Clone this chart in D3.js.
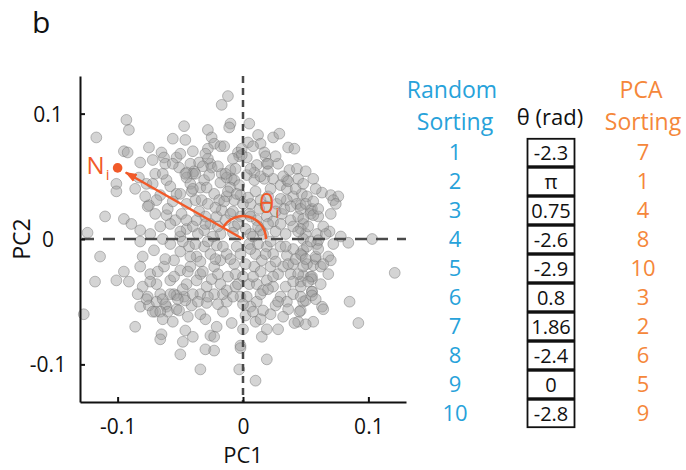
<!DOCTYPE html>
<html lang="en">
<head>
<meta charset="utf-8">
<title>PCA sorting of neurons</title>
<script src="https://cdn.jsdelivr.net/npm/d3@7"></script>
<style>
  body { margin: 0; background: #fff; }
  text { font-family: "Open Sans", sans-serif; }
</style>
</head>
<body>
<script>

// neuron positions in PC space [PC1, PC2]
var neurons = [
  [-0.012,0.114],[-0.017,0.107],[-0.093,0.095],[-0.091,0.087],[-0.117,0.081],[-0.047,0.090],[-0.056,0.080],[-0.046,0.079],
  [-0.028,0.087],[-0.025,0.081],[-0.010,0.092],[-0.011,0.089],[0.005,0.092],[0.012,0.083],[0.024,0.081],[0.029,0.084],
  [-0.023,0.076],[-0.018,0.074],[-0.015,0.074],[0.014,0.076],[0.036,0.073],[0.041,0.072],[-0.075,0.073],[-0.095,0.070],
  [-0.092,0.069],[-0.082,0.061],[-0.072,0.063],[-0.065,0.069],[-0.063,0.065],[-0.062,0.060],[-0.053,0.065],[-0.051,0.057],
  [-0.042,0.060],[-0.039,0.054],[-0.035,0.061],[-0.026,0.060],[-0.025,0.057],[-0.004,0.069],[-0.003,0.066],[0.003,0.065],
  [0.017,0.069],[0.018,0.066],[0.019,0.060],[0.011,0.059],[0.009,0.053],[-0.010,0.055],[0.037,0.055],[0.043,0.056],
  [0.050,0.054],[0.056,0.048],[0.035,0.047],[-0.083,0.049],[-0.070,0.052],[0.004,0.077],[-0.028,0.072],[-0.001,0.072],
  [-0.001,0.067],[-0.028,0.064],[0.020,0.060],[-0.017,0.052],[-0.009,0.048],[-0.040,0.052],[-0.045,0.053],
  [-0.101,0.044],[-0.101,0.038],[-0.077,0.044],[-0.061,0.047],[-0.058,0.042],[-0.066,0.035],[-0.069,0.031],[-0.053,0.036],
  [-0.045,0.049],[-0.042,0.044],[-0.041,0.038],[-0.034,0.041],[-0.031,0.047],[-0.027,0.051],[-0.029,0.041],[-0.023,0.036],
  [-0.018,0.045],[-0.013,0.049],[-0.007,0.047],[-0.010,0.041],[-0.003,0.043],[0.003,0.051],[0.009,0.047],[0.017,0.048],
  [0.024,0.048],[0.030,0.043],[0.035,0.040],[0.040,0.034],[0.047,0.036],[0.051,0.034],[0.063,0.037],[0.070,0.035],
  [0.076,0.034],[0.072,0.031],[0.055,0.024],[-0.075,0.027],[-0.045,0.028],[-0.038,0.031],[-0.033,0.031],[-0.019,0.031],
  [-0.013,0.034],[-0.007,0.031],[-0.002,0.035],[0.006,0.028],[0.014,0.031],[0.020,0.034],[0.027,0.028],[0.035,0.031],
  [0.043,0.028],[-0.110,0.018],[-0.095,0.016],[-0.089,0.012],
  [-0.124,0.005],[-0.082,0.007],[-0.074,0.004],[-0.066,0.010],[-0.061,0.019],[-0.054,0.015],[-0.049,0.020],[-0.045,0.008],
  [-0.037,0.015],[-0.031,0.007],[-0.026,0.012],[-0.021,0.018],[-0.017,0.023],[-0.010,0.020],[-0.007,0.010],[-0.002,0.018],
  [0.005,0.020],[0.011,0.015],[0.019,0.018],[0.024,0.014],[0.031,0.020],[0.038,0.015],[0.044,0.018],[0.048,0.012],
  [0.054,0.020],[0.060,0.018],[0.050,0.004],[0.059,0.004],[0.069,0.006],[0.078,0.002],[0.084,-0.003],[0.103,0.000],
  [0.014,0.007],[0.006,0.004],[-0.018,0.004],[-0.050,0.002],[-0.076,0.026],
  [0.046,0.027],[0.054,0.023],[0.056,0.019],[0.048,0.016],[0.048,0.000],[0.046,0.008],[0.059,-0.004],[0.060,-0.001],
  [0.048,-0.009],[0.047,-0.013],[0.058,-0.016],[0.056,-0.021],[0.062,-0.022],[0.051,-0.020],[0.048,-0.029],[0.054,-0.030],
  [0.055,-0.032],[0.046,-0.034],[0.055,-0.042],
  [-0.114,-0.014],[-0.082,-0.002],[-0.080,-0.014],[-0.071,-0.009],[-0.082,-0.022],[-0.074,-0.028],[-0.095,-0.026],[-0.101,-0.033],
  [-0.118,-0.034],[-0.091,-0.034],[-0.063,-0.022],[-0.055,-0.017],[-0.058,-0.004],[-0.050,-0.010],[-0.043,-0.006],[-0.037,-0.014],
  [-0.031,-0.006],[-0.026,-0.012],[-0.021,-0.005],[-0.018,-0.017],[-0.013,-0.012],[-0.007,-0.020],[-0.005,-0.006],[0.005,-0.004],
  [0.010,-0.012],[0.015,-0.017],[0.019,-0.006],[0.024,-0.012],[0.030,-0.006],[0.035,-0.013],[0.040,-0.008],[0.046,-0.012],
  [0.051,-0.006],[0.058,-0.014],[0.068,-0.014],[0.070,-0.017],[0.121,-0.027],[-0.050,-0.025],[-0.042,-0.022],[-0.034,-0.028],
  [-0.023,-0.022],[0.009,-0.022],[0.022,-0.022],[0.032,-0.022],[0.040,-0.020],[0.048,-0.022],[0.055,-0.030],[0.038,-0.028],
  [-0.080,-0.038],[-0.069,-0.036],[-0.058,-0.033],[-0.076,-0.046],[-0.066,-0.044],[-0.082,-0.054],[-0.075,-0.053],[-0.069,-0.050],
  [-0.061,-0.054],[-0.055,-0.044],[-0.047,-0.046],[-0.045,-0.036],[-0.037,-0.033],[-0.029,-0.038],[-0.034,-0.044],[-0.023,-0.044],
  [-0.018,-0.036],[-0.013,-0.041],[-0.006,-0.038],[-0.002,-0.046],[0.005,-0.036],[0.011,-0.036],[0.019,-0.033],[0.016,-0.041],
  [0.024,-0.038],[0.030,-0.046],[0.035,-0.050],[0.040,-0.044],[0.046,-0.038],[0.055,-0.042],[0.048,-0.050],[0.063,-0.054],
  [0.085,-0.050],[0.011,-0.050],[0.006,-0.054],[-0.029,-0.051],[-0.041,-0.053],[-0.053,-0.056],[-0.013,-0.050],[0.026,-0.053],
  [-0.077,-0.048],[-0.064,-0.048],[-0.062,-0.052],[-0.053,-0.045],[-0.070,-0.058],[-0.060,-0.058],[-0.046,-0.049],
  [0.050,-0.049],[0.046,-0.057],[0.044,-0.066],[0.055,-0.045],
  [-0.127,-0.060],[-0.072,-0.058],[-0.066,-0.058],[-0.051,-0.057],[-0.016,-0.058],[0.002,-0.061],[0.016,-0.057],[0.036,-0.056],
  [0.056,-0.066],[0.041,-0.067],[0.092,-0.067],[-0.086,-0.070],[-0.009,-0.067],[0.010,-0.066],[-0.021,-0.070],[-0.046,-0.073],
  [-0.065,-0.076],[-0.066,-0.080],[-0.040,-0.078],[-0.026,-0.077],[-0.023,-0.078],[0.000,-0.072],[0.015,-0.078],[0.019,-0.072],
  [-0.048,-0.082],[-0.002,-0.085],[-0.002,-0.087],[-0.030,-0.088],[-0.023,-0.089],[-0.050,-0.092],[0.019,-0.096],[-0.034,-0.104],
  [-0.003,-0.104],[0.010,-0.113],[-0.034,-0.060],[0.014,-0.064],
  // dense core
  [-0.040,0.040],[-0.035,0.022],[-0.030,0.018],[-0.028,0.028],[-0.022,0.025],[-0.015,0.030],[-0.012,0.038],[-0.005,0.036],
  [0.000,0.028],[0.004,0.033],[0.010,0.038],[0.013,0.024],[0.018,0.026],[0.022,0.040],[0.026,0.022],[0.030,0.032],
  [0.033,0.024],[0.038,0.026],[0.042,0.040],[0.046,0.024],[0.050,0.028],[0.056,0.030],[0.060,0.024],[-0.045,0.015],
  [-0.040,0.010],[-0.036,0.004],[-0.030,0.012],[-0.024,0.002],[-0.020,0.010],[-0.014,0.015],[-0.008,0.005],[-0.004,0.012],
  [0.002,0.008],[0.008,0.002],[0.012,0.010],[0.016,0.004],[0.020,0.012],[0.026,0.006],[0.030,0.012],[0.034,0.004],
  [0.040,0.010],[0.044,0.006],[0.052,0.010],[0.064,0.010],[-0.048,-0.002],[-0.042,-0.014],[-0.038,-0.004],[-0.034,-0.018],
  [-0.028,-0.002],[-0.022,-0.016],[-0.016,-0.006],[-0.010,-0.016],[-0.006,-0.028],[-0.002,-0.012],[0.002,-0.020],[0.006,-0.008],
  [0.012,-0.004],[0.014,-0.026],[0.018,-0.012],[0.022,-0.002],[0.026,-0.018],[0.028,-0.028],[0.034,-0.006],[0.036,-0.020],
  [0.042,-0.016],[0.044,-0.028],[0.050,-0.016],[0.054,-0.002],[0.060,-0.008],[0.064,-0.020],[-0.055,-0.030],[-0.048,-0.040],
  [-0.044,-0.026],[-0.040,-0.044],[-0.032,-0.026],[-0.028,-0.046],[-0.025,-0.032],[-0.020,-0.028],[-0.016,-0.044],[-0.012,-0.030],
  [-0.008,-0.046],[-0.004,-0.036],[0.000,-0.030],[0.003,-0.046],[0.008,-0.030],[0.014,-0.044],[0.020,-0.040],[0.024,-0.030],
  [0.028,-0.050],[0.034,-0.038],[0.040,-0.034],[0.046,-0.046],[0.052,-0.034],[-0.060,0.024],[-0.056,0.030],[-0.050,0.036],
  [-0.046,0.052],[-0.038,0.052],[-0.032,0.058],[-0.020,0.058],[-0.014,0.052],[-0.006,0.056],[0.006,0.056],[0.014,0.050],
  [0.020,0.054],[0.028,0.060],[0.032,0.050],[0.044,0.048],[0.048,0.044],[-0.064,0.000],[-0.062,-0.016],[-0.068,-0.026],
  [-0.058,-0.044],[-0.052,-0.048],[-0.036,-0.050],[-0.020,-0.052],[0.008,-0.058],[0.022,-0.060],[0.032,-0.062],[0.045,-0.058],
  [0.058,-0.048],[0.062,-0.036],[0.068,-0.028],[0.072,-0.004],[0.066,0.004],[0.070,0.020],[-0.070,0.020],[-0.078,0.034],
  [-0.072,0.044],[-0.086,0.040],[-0.064,0.052],[-0.056,0.060],[-0.050,0.068],[-0.040,0.070],[-0.030,0.068],[-0.008,0.064],
  [0.026,0.066],[0.008,0.074],[-0.074,-0.034],[-0.084,-0.044],[-0.064,-0.064],[-0.056,-0.066],[-0.044,-0.062],[-0.030,-0.064],
  [0.000,-0.052],[0.028,-0.072],[0.050,-0.068],[-0.050,0.006],[-0.058,0.012],[-0.008,0.022],[0.006,0.018],[0.036,0.046],
  [0.058,0.040],[0.074,0.028],[0.064,-0.056]
];

var exampleNeuron = [-0.100, 0.0567];   // N_i
var axisTicks = [-0.1, 0, 0.1];

var randomOrder = [1, 2, 3, 4, 5, 6, 7, 8, 9, 10];
var thetaValues = ["-2.3", "\u03c0", "0.75", "-2.6", "-2.9", "0.8", "1.86", "-2.4", "0", "-2.8"];
var pcaOrder = [7, 1, 4, 8, 10, 3, 2, 6, 5, 9];

var w = 686, h = 470;
var red = "#f15a29", blue = "#27a2da", orange = "#f5873a";

var svg = d3.select("body").append("svg")
  .attr("width", w)
  .attr("height", h);

var xScale = d3.scaleLinear().domain([-0.13, 0.13]).range([80, 406]);
var yScale = d3.scaleLinear().domain([-0.13, 0.13]).range([402, 76]);

var fmt = function(d) { return d === 0 ? "0" : String(d); };

// points
svg.append("g").selectAll("circle")
  .data(neurons)
  .enter()
  .append("circle")
  .attr("cx", function(d) { return xScale(d[0]); })
  .attr("cy", function(d) { return yScale(d[1]); })
  .attr("r", 5.4)
  .attr("fill", "rgb(160,160,160)")
  .attr("fill-opacity", 0.45)
  .attr("stroke", "rgb(110,110,110)")
  .attr("stroke-opacity", 0.5)
  .attr("stroke-width", 0.9);

// zero lines
svg.append("line")
  .attr("x1", xScale(0)).attr("x2", xScale(0))
  .attr("y1", yScale(0.13)).attr("y2", yScale(-0.13))
  .attr("stroke", "#4a4a4a").attr("stroke-width", 2.5)
  .attr("stroke-dasharray", "7,5");

svg.append("line")
  .attr("x1", xScale(-0.13)).attr("x2", xScale(0.13))
  .attr("y1", yScale(0)).attr("y2", yScale(0))
  .attr("stroke", "#4a4a4a").attr("stroke-width", 2.5)
  .attr("stroke-dasharray", "12,9")
  .attr("stroke-dashoffset", -2);

// axes
var xAxis = d3.axisBottom(xScale).tickValues(axisTicks).tickSize(-5).tickSizeOuter(0).tickFormat(fmt);
var yAxis = d3.axisLeft(yScale).tickValues(axisTicks).tickSize(-5).tickSizeOuter(0).tickFormat(fmt);

var gx = svg.append("g")
  .attr("transform", "translate(0," + yScale(-0.13) + ")")
  .call(xAxis);
var gy = svg.append("g")
  .attr("transform", "translate(" + xScale(-0.13) + ",0)")
  .call(yAxis);

[gx, gy].forEach(function(g) {
  g.select(".domain").attr("stroke", "#111").attr("stroke-width", 2);
  g.selectAll(".tick line").attr("stroke", "#111").attr("stroke-width", 2);
  g.selectAll(".tick text")
    .attr("fill", "#111")
    .attr("font-size", 21)
    .attr("font-family", "Open Sans, sans-serif");
});
gx.selectAll(".tick text").attr("y", 32).attr("dy", 0);
gy.selectAll(".tick text").attr("x", -32).attr("dy", "0.36em").attr("text-anchor", "middle");

// axis titles
svg.append("text")
  .attr("x", xScale(0)).attr("y", 463)
  .attr("text-anchor", "middle").attr("font-size", 22).attr("fill", "#111")
  .text("PC1");
svg.append("text")
  .attr("transform", "translate(30," + yScale(0) + ") rotate(-90)")
  .attr("text-anchor", "middle").attr("font-size", 23).attr("fill", "#111")
  .text("PC2");

svg.append("text")
  .attr("x", 32).attr("y", 33)
  .attr("font-size", 30).attr("fill", "#111")
  .text("b");

// example neuron, arrow and angle
var ox = xScale(0), oy = yScale(0);
var nx = xScale(exampleNeuron[0]), ny = yScale(exampleNeuron[1]);
var ang = Math.atan2(ny - oy, nx - ox);

svg.append("defs").append("marker")
  .attr("id", "head")
  .attr("viewBox", "0 0 12 9")
  .attr("refX", 11).attr("refY", 4.5)
  .attr("markerWidth", 12).attr("markerHeight", 9)
  .attr("markerUnits", "userSpaceOnUse")
  .attr("orient", "auto")
  .append("path")
  .attr("d", "M0,0L12,4.5L0,9Z")
  .attr("fill", red);

var arc = d3.path();
arc.arc(ox, oy, 23, 0, ang, true);
svg.append("path")
  .attr("d", arc.toString())
  .attr("fill", "none").attr("stroke", red).attr("stroke-width", 2.5);

svg.append("line")
  .attr("x1", ox).attr("y1", oy)
  .attr("x2", ox + (nx - ox) * 0.935).attr("y2", oy + (ny - oy) * 0.935)
  .attr("stroke", red).attr("stroke-width", 2.5)
  .attr("marker-end", "url(#head)");

svg.append("circle")
  .attr("cx", nx).attr("cy", ny).attr("r", 4.8)
  .attr("fill", red);

var ni = svg.append("text")
  .attr("x", nx - 31).attr("y", ny + 6)
  .attr("font-size", 24).attr("fill", red);
ni.append("tspan").text("N");
ni.append("tspan").attr("font-size", 15).attr("dy", 6).attr("dx", 1).text("i");

var th = svg.append("text")
  .attr("x", ox + 16).attr("y", oy - 26)
  .attr("font-size", 26).attr("fill", red);
th.append("tspan").text("\u03b8");
th.append("tspan").attr("font-size", 15).attr("dy", 5).attr("dx", 1).text("i");

// table on the right
var rowScale = d3.scaleBand().domain(d3.range(10)).range([138, 428]);

svg.append("text").attr("x", 452).attr("y", 98)
  .attr("text-anchor", "middle").attr("font-size", 23).attr("fill", blue).text("Random");
svg.append("text").attr("x", 455).attr("y", 130)
  .attr("text-anchor", "middle").attr("font-size", 23).attr("fill", blue).text("Sorting");
svg.append("text").attr("x", 550).attr("y", 125)
  .attr("text-anchor", "middle").attr("font-size", 22).attr("fill", "#111").text("\u03b8 (rad)");
svg.append("text").attr("x", 641).attr("y", 98)
  .attr("text-anchor", "middle").attr("font-size", 23).attr("fill", orange).text("PCA");
svg.append("text").attr("x", 643).attr("y", 130)
  .attr("text-anchor", "middle").attr("font-size", 23).attr("fill", orange).text("Sorting");

svg.append("g").selectAll("text")
  .data(randomOrder)
  .enter()
  .append("text")
  .attr("x", 455)
  .attr("y", function(d, i) { return rowScale(i) + rowScale.bandwidth() / 2; })
  .attr("dy", "0.36em")
  .attr("text-anchor", "middle").attr("font-size", 22).attr("fill", blue)
  .text(function(d) { return d; });

var cells = svg.append("g").selectAll("g")
  .data(thetaValues)
  .enter()
  .append("g")
  .attr("transform", function(d, i) { return "translate(0," + rowScale(i) + ")"; });

cells.append("rect")
  .attr("x", 527.5).attr("y", 0.8)
  .attr("width", 47).attr("height", rowScale.bandwidth() - 1.6)
  .attr("fill", "#fff").attr("stroke", "#111").attr("stroke-width", 1.8);

cells.append("text")
  .attr("x", 551).attr("y", rowScale.bandwidth() / 2)
  .attr("dy", "0.36em")
  .attr("text-anchor", "middle").attr("font-size", 20).attr("fill", "#111")
  .text(function(d) { return d; });

svg.append("g").selectAll("text")
  .data(pcaOrder)
  .enter()
  .append("text")
  .attr("x", 643)
  .attr("y", function(d, i) { return rowScale(i) + rowScale.bandwidth() / 2; })
  .attr("dy", "0.36em")
  .attr("text-anchor", "middle").attr("font-size", 22).attr("fill", orange)
  .text(function(d) { return d; });

</script>
</body>
</html>
